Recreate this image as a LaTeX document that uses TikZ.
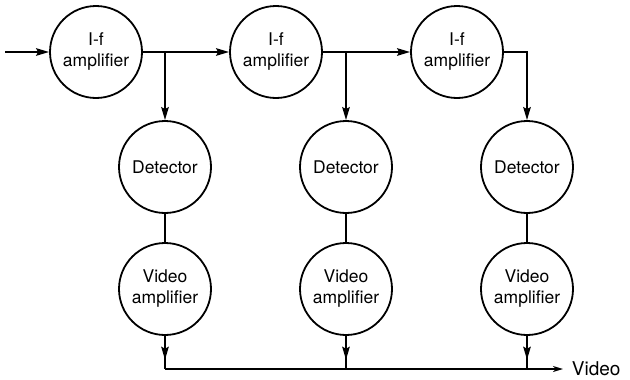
\documentclass[tikz,border=0pt]{standalone}
\usepackage{fontspec}
\setmainfont{TeX Gyre Heros}
\usetikzlibrary{arrows.meta,calc}

\begin{document}
\begin{tikzpicture}[x=1pt,y=-1pt,>={Stealth[length=13pt,width=7.5pt,inset=2pt]},line width=1.8pt,
  stage/.style={draw,circle,minimum size=92pt,inner sep=0pt,align=center,font=\fontsize{17.5}{21}\selectfont}]
\useasboundingbox (0,0) rectangle (630,380);
% i-f chain
\node[stage] (if1) at (96,52) {I-f\\amplifier};
\node[stage] (if2) at (276,52) {I-f\\amplifier};
\node[stage] (if3) at (457,52) {I-f\\amplifier};
% detectors and video amplifiers
\node[stage] (det1) at (165,167) {Detector};
\node[stage] (det2) at (346,167) {Detector};
\node[stage] (det3) at (527,167) {Detector};
\node[stage] (vid1) at (165,289) {Video\\amplifier};
\node[stage] (vid2) at (346,289) {Video\\amplifier};
\node[stage] (vid3) at (527,289) {Video\\amplifier};
\coordinate (in) at (5,52);
\coordinate (bus) at (563,369);
\node[anchor=west,inner sep=0pt,font=\fontsize{19}{22}\selectfont] (out) at (571,369) {Video};
% signal path
\draw[->] (in) -- (if1);
\draw[->] (if1) -- (if2);
\draw[->] (if2) -- (if3);
\draw[->] (det1 |- if1.east) -- (det1.north);
\draw[->] (det2 |- if2.east) -- (det2.north);
\draw[->] (if3.east) -| (det3.north);
\draw (det1) -- (vid1);
\draw (det2) -- (vid2);
\draw (det3) -- (vid3);
% output bus
\draw (vid1.south) -- (vid1 |- bus);
\draw (vid2.south) -- (vid2 |- bus);
\draw (vid3.south) -- (vid3 |- bus);
\draw[->] (vid1.south) -- ($(vid1.south)!0.72!(vid1 |- bus)$);
\draw[->] (vid2.south) -- ($(vid2.south)!0.72!(vid2 |- bus)$);
\draw[->] (vid3.south) -- ($(vid3.south)!0.72!(vid3 |- bus)$);
\draw[-{Stealth[length=10pt,width=6pt,inset=3pt]},line width=1.4pt] (vid1 |- bus) -- (bus);
\end{tikzpicture}
\end{document}
